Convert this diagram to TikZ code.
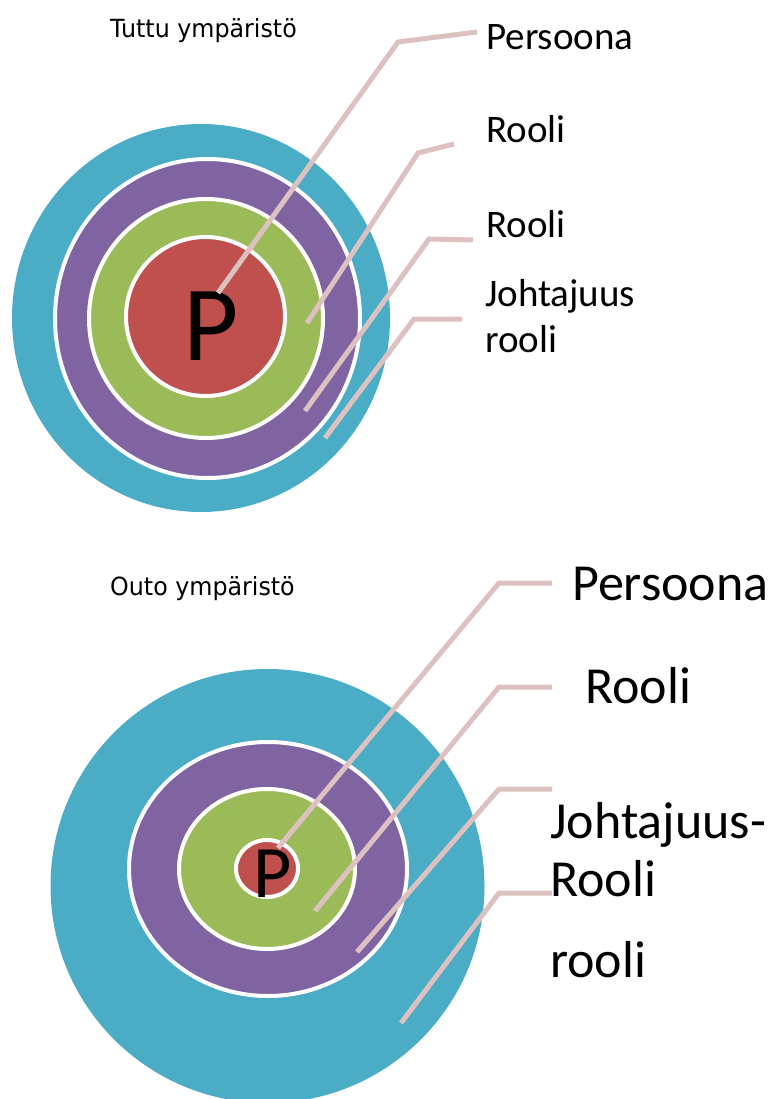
\documentclass[tikz,border=0pt]{standalone}
\usepackage{fontspec}
\setmainfont{Carlito}
\newfontfamily\titlefont[FakeStretch=0.95]{DejaVu Sans}
\usepackage{tikz}
\usetikzlibrary{positioning,calc}

\definecolor{ringteal}{RGB}{75,172,198}
\definecolor{ringpurple}{RGB}{128,100,162}
\definecolor{ringgreen}{RGB}{155,187,89}
\definecolor{ringred}{RGB}{192,80,77}
\definecolor{leaderpink}{RGB}{221,193,193}

\begin{document}
\begin{tikzpicture}[
    x=1pt, y=-1pt,
    ring/.style={draw=white, line width=4pt},
    leader/.style={leaderpink, line width=5pt, line join=miter},
    title/.style={anchor=base west, inner sep=0pt, font=\titlefont\fontsize{25}{30}\selectfont},
    lbl/.style={anchor=base west, inner sep=0pt, font=\fontsize{39}{46}\selectfont},
    biglbl/.style={anchor=base west, inner sep=0pt, font=\fontsize{52}{60}\selectfont}
]
    \useasboundingbox (0,0) rectangle (773,1099);

    % Tuttu ympäristö
    \node[title] (t-title) at (110,38) {Tuttu ympäristö};
    \path[fill=ringteal] (201,318) ellipse [x radius=189, y radius=194];
    \path[ring, fill=ringpurple] (207.5,318.5) ellipse [x radius=152.5, y radius=159.5];
    \path[ring, fill=ringgreen] (206,318.5) ellipse [x radius=117, y radius=119.5];
    \path[ring, fill=ringred] (205.5,316.5) ellipse [x radius=79.5, y radius=79.5];
    \node[anchor=base west, inner sep=0pt, font=\fontsize{107}{110}\selectfont] (t-p) at (183,360) {P};

    % Tuttu - leader lines
    \coordinate (t-a1) at (218,293);
    \coordinate (t-a2) at (398,42);
    \coordinate (t-a3) at (477,32);
    \coordinate (t-b1) at (307,323);
    \coordinate (t-b2) at (418,153);
    \coordinate (t-b3) at (454,144);
    \coordinate (t-c1) at (305,411);
    \coordinate (t-c2) at (429,239);
    \coordinate (t-c3) at (473,240);
    \coordinate (t-d1) at (325,438);
    \coordinate (t-d2) at (414,319);
    \coordinate (t-d3) at (462,319);
    \draw[leader] (t-a1) -- (t-a2) -- (t-a3);
    \draw[leader] (t-b1) -- (t-b2) -- (t-b3);
    \draw[leader] (t-c1) -- (t-c2) -- (t-c3);
    \draw[leader] (t-d1) -- (t-d2) -- (t-d3);

    % Tuttu - labels
    \node[lbl] (t-persoona) at (486,50) {Persoona};
    \node[lbl] (t-rooli1) at (486,143) {Rooli};
    \node[lbl] (t-rooli2) at (486,237) {Rooli};
    \node[lbl] (t-johtaja) at (485,306) {Johtajuus};
    \node[lbl] (t-johtaja2) at (485,352) {rooli};

    % Outo ympäristö
    \node[title] (o-title) at (110,595) {Outo ympäristö};
    \path[fill=ringteal] (267.5,886) ellipse [x radius=217, y radius=217];
    \path[ring, fill=ringpurple] (268,869) ellipse [x radius=139, y radius=127];
    \path[ring, fill=ringgreen] (267,869) ellipse [x radius=88, y radius=80];
    \path[ring, fill=ringred] (267,868.5) ellipse [x radius=31, y radius=28.5];
    \node[anchor=base west, inner sep=0pt, font=\fontsize{74}{80}\selectfont] (o-p) at (253,897) {P};

    % Outo - leader lines
    \coordinate (o-a1) at (278,848);
    \coordinate (o-a2) at (499,583);
    \coordinate (o-a3) at (552,583);
    \coordinate (o-b1) at (315,911);
    \coordinate (o-b2) at (499,687);
    \coordinate (o-b3) at (552,687);
    \coordinate (o-c1) at (357,952);
    \coordinate (o-c2) at (499,789);
    \coordinate (o-c3) at (552,789);
    \coordinate (o-d1) at (401,1023);
    \coordinate (o-d2) at (499,893);
    \coordinate (o-d3) at (552,893);
    \draw[leader] (o-a1) -- (o-a2) -- (o-a3);
    \draw[leader] (o-b1) -- (o-b2) -- (o-b3);
    \draw[leader] (o-c1) -- (o-c2) -- (o-c3);
    \draw[leader] (o-d1) -- (o-d2) -- (o-d3);

    % Outo - labels
    \node[biglbl] (o-persoona) at (572,600) {Persoona};
    \node[biglbl] (o-rooli) at (585,703) {Rooli};
    \node[biglbl] (o-johtaja) at (550,838) {Johtajuus-};
    \node[biglbl] (o-rooli2) at (550,896) {Rooli};
    \node[biglbl] (o-rooli3) at (550,977) {rooli};
\end{tikzpicture}
\end{document}
